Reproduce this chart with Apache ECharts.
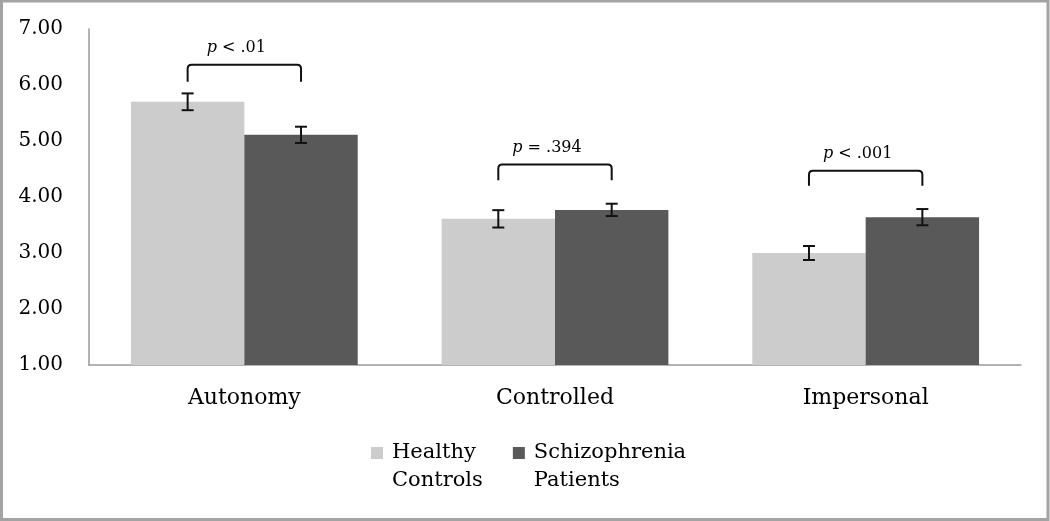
<!DOCTYPE html>
<html>
<head>
<meta charset="utf-8">
<script src="https://cdn.jsdelivr.net/npm/echarts@6/dist/echarts.min.js"></script>
<style>
html,body{margin:0;padding:0;background:#fff;}
#chart{width:1050px;height:521px;}
</style>
</head>
<body>
<div id="chart"></div>
<script>
// ---- data ----
const categories = ['Autonomy', 'Controlled', 'Impersonal'];
const seriesNames = ['Healthy\nControls', 'Schizophrenia\nPatients'];
const healthyMeans = [5.70, 3.61, 3.00];
const healthyErr = [0.15, 0.155, 0.125];
const patientMeans = [5.11, 3.77, 3.64];
const patientErr = [0.145, 0.11, 0.145];
const bracketTop = [6.36, 4.58, 4.47];
const bracketEnd = [6.06, 4.30, 4.20];
const pOps = ['<', '=', '<'];
const pVals = ['.01', '.394', '.001'];
const yTicks = [1, 2, 3, 4, 5, 6, 7];

const FONT = 'DejaVu Serif';
const CAT_GAP = 0.27;
const chart = echarts.init(document.getElementById('chart'), null, {renderer: 'canvas'});

function barWidthOf(api) {
  return api.size([1, 0])[0] * (1 - CAT_GAP) / 2;
}

function errRender(side, means, errs) {
  return function (params, api) {
    const i = api.value(0);
    const bw = barWidthOf(api);
    const c = api.coord([i, means[i]]);
    const x = c[0] + side * bw / 2;
    const yHi = api.coord([i, means[i] + errs[i]])[1];
    const yLo = api.coord([i, means[i] - errs[i]])[1];
    const cap = 6;
    const st = {stroke: '#111', lineWidth: 2, fill: null};
    return {
      type: 'group',
      children: [
        {type: 'line', shape: {x1: x, y1: yHi, x2: x, y2: yLo}, style: st},
        {type: 'line', shape: {x1: x - cap, y1: yHi, x2: x + cap, y2: yHi}, style: st},
        {type: 'line', shape: {x1: x - cap, y1: yLo, x2: x + cap, y2: yLo}, style: st}
      ]
    };
  };
}

function bracketRender(params, api) {
  const i = api.value(0);
  const bw = barWidthOf(api);
  const cx = api.coord([i, bracketTop[i]])[0];
  const x1 = cx - bw / 2, x2 = cx + bw / 2;
  const yt = api.coord([i, bracketTop[i]])[1];
  const yb = api.coord([i, bracketEnd[i]])[1];
  const r = 4;
  const d = 'M' + x1 + ',' + yb + ' L' + x1 + ',' + (yt + r) +
    ' Q' + x1 + ',' + yt + ' ' + (x1 + r) + ',' + yt +
    ' L' + (x2 - r) + ',' + yt +
    ' Q' + x2 + ',' + yt + ' ' + x2 + ',' + (yt + r) +
    ' L' + x2 + ',' + yb;
  return {
    type: 'group',
    children: [
      {type: 'path', shape: {pathData: d}, style: {stroke: '#111', lineWidth: 2, fill: null}},
      {
        type: 'text',
        x: cx - 8, y: yt - 17,
        style: {
          text: '{i|p} ' + pOps[i] + ' ' + pVals[i],
          align: 'center', verticalAlign: 'middle',
          fontFamily: FONT, fontSize: 16, fill: '#000',
          rich: {i: {fontFamily: FONT, fontStyle: 'italic', fontSize: 16, fill: '#000'}}
        }
      }
    ]
  };
}

const option = {
  animation: false,
  backgroundColor: '#fff',
  graphic: [{
    type: 'rect', silent: true, z: 100,
    shape: {x: 1.5, y: 1, width: 1046.5, height: 518.5},
    style: {fill: null, stroke: '#a3a3a3', lineWidth: 3}
  }],
  grid: {left: 89, right: 29, top: 29, bottom: 156, containLabel: false},
  legend: {
    data: seriesNames,
    left: 371, top: 411, padding: 0,
    itemWidth: 12, itemHeight: 12, itemGap: 30,
    icon: 'rect',
    formatter: name => '{t| }\n' + name.split('\n').map(s => '{t|' + s + '}').join('\n'),
    textStyle: {
      fontFamily: FONT, fontSize: 21, lineHeight: 28, color: '#000',
      rich: {t: {fontFamily: FONT, fontSize: 21, lineHeight: 28, color: '#000', padding: [0, 0, 0, 4]}}
    }
  },
  xAxis: {
    type: 'category', data: categories,
    axisLine: {show: true, lineStyle: {color: '#9a9a9a', width: 1.5}},
    axisTick: {show: false},
    axisLabel: {fontFamily: FONT, fontSize: 22, color: '#000', margin: 22},
    splitLine: {show: false}
  },
  yAxis: {
    type: 'value', min: yTicks[0], max: yTicks[yTicks.length - 1], interval: 1,
    axisLine: {show: true, lineStyle: {color: '#9a9a9a', width: 1.5}},
    axisTick: {show: false},
    splitLine: {show: false},
    axisLabel: {fontFamily: FONT, fontSize: 20, color: '#000', margin: 26,
      formatter: v => v.toFixed(2)}
  },
  series: [
    {name: seriesNames[0], type: 'bar', data: healthyMeans, barGap: '0%', barCategoryGap: (CAT_GAP * 100) + '%',
      itemStyle: {color: '#cccccc'}},
    {name: seriesNames[1], type: 'bar', data: patientMeans, barGap: '0%', barCategoryGap: (CAT_GAP * 100) + '%',
      itemStyle: {color: '#595959'}},
    {type: 'custom', data: categories.map((c, i) => [i]), renderItem: errRender(-1, healthyMeans, healthyErr), z: 5},
    {type: 'custom', data: categories.map((c, i) => [i]), renderItem: errRender(1, patientMeans, patientErr), z: 5},
    {type: 'custom', data: categories.map((c, i) => [i]), renderItem: bracketRender, z: 5}
  ]
};
chart.setOption(option);
</script>
</body>
</html>
